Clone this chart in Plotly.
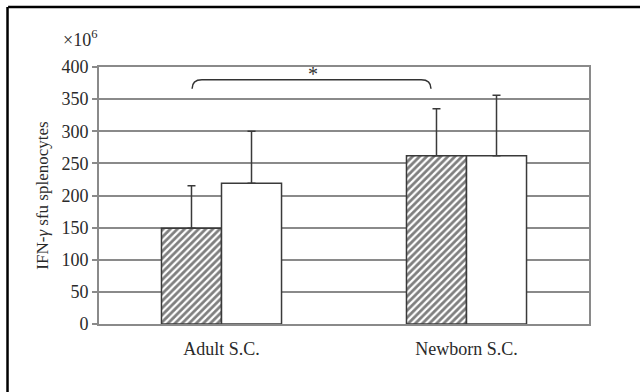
import plotly.graph_objects as go

categories = ["Adult S.C.", "Newborn S.C."]
hatched_vals = [149, 262]
hatched_err = [66, 73]
open_vals = [219, 262]
open_err = [81, 94]
y_ticks = [0, 50, 100, 150, 200, 250, 300, 350, 400]

font_family = "Liberation Serif, DejaVu Serif, serif"
axis_grey = "#8a8a8a"
edge = "#3a3a3a"
text_col = "#2a2a2a"

fig = go.Figure()
fig.add_trace(go.Bar(
    x=categories, y=hatched_vals,
    marker=dict(color="white",
                line=dict(color=edge, width=1.5),
                pattern=dict(shape="/", fgcolor="#000000", bgcolor="white",
                             size=5, solidity=0.55)),
    error_y=dict(type="data", symmetric=False, array=hatched_err,
                 arrayminus=[0, 0], color=edge, thickness=1.5, width=4),
    showlegend=False,
))
fig.add_trace(go.Bar(
    x=categories, y=open_vals,
    marker=dict(color="white", line=dict(color=edge, width=1.5)),
    error_y=dict(type="data", symmetric=False, array=open_err,
                 arrayminus=[0, 0], color=edge, thickness=1.5, width=4),
    showlegend=False,
))

# significance bracket between the two groups
bx0, bx1, by0, by1 = -0.12, 0.855, 366, 380
fig.add_shape(type="path", xref="x", yref="y",
              path=(f"M {bx0},{by0} Q {bx0},{by1} {bx0 + 0.04},{by1} "
                    f"L {bx1 - 0.04},{by1} Q {bx1},{by1} {bx1},{by0}"),
              line=dict(color="#333333", width=1.5))
fig.add_annotation(x=0.375, y=389, xref="x", yref="y", text="*",
                   showarrow=False, font=dict(size=20, color="#333333",
                                              family=font_family))

# figure frame (top and left rules)
fig.add_shape(type="line", xref="paper", yref="paper",
              x0=-0.1855, x1=1.11, y0=1.2335, y1=1.2335,
              line=dict(color="black", width=2.5))
fig.add_shape(type="line", xref="paper", yref="paper",
              x0=-0.1867, x1=-0.1867, y0=1.2335, y1=-0.27,
              line=dict(color="black", width=2.5))

fig.add_annotation(x=-0.077, y=1.06, xref="paper", yref="paper",
                   text="×10<sup>6</sup>", showarrow=False, xanchor="left",
                   yanchor="bottom",
                   font=dict(size=18, color=text_col, family=font_family))

fig.update_layout(
    width=640, height=392,
    margin=dict(l=99, r=51, t=67, b=68),
    paper_bgcolor="white", plot_bgcolor="white",
    barmode="group", bargap=0.51, bargroupgap=0,
    font=dict(family=font_family, size=17, color=text_col),
)
fig.update_xaxes(showline=True, linecolor=axis_grey, linewidth=2,
                 mirror=True, ticks="", showgrid=False,
                 ticklabelstandoff=7,
                 tickfont=dict(size=18, color=text_col))
fig.update_yaxes(range=[0, 400], tickvals=y_ticks, showline=True,
                 linecolor=axis_grey, linewidth=2, mirror=True,
                 ticks="outside", ticklen=5, tickcolor=axis_grey,
                 tickwidth=1.5, showgrid=True, gridcolor=axis_grey,
                 gridwidth=1.5, zeroline=False,
                 tickfont=dict(size=18, color=text_col),
                 title=dict(text="IFN-<i>γ</i> sfu splenocytes", standoff=8,
                            font=dict(size=17, color=text_col)))

fig.write_html("out.html")
